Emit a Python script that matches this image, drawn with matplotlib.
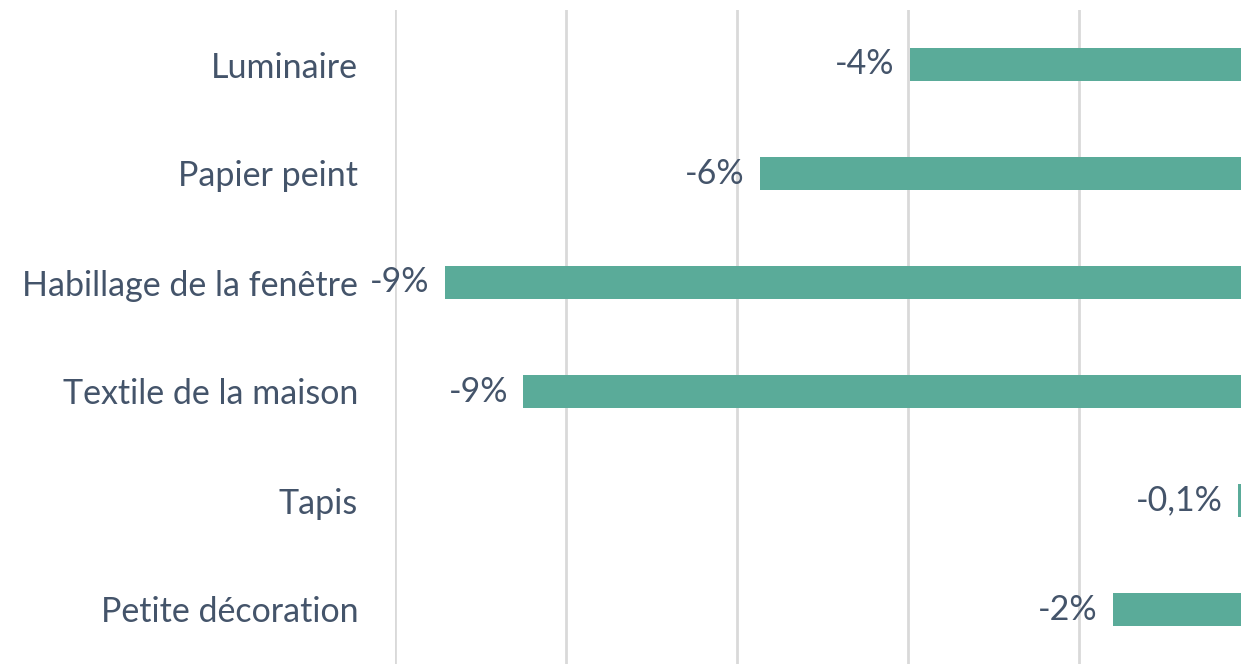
import matplotlib.pyplot as plt

# Donnees du graphique
categories = ['Luminaire', 'Papier peint', 'Habillage de la fenêtre',
              'Textile de la maison', 'Tapis', 'Petite décoration']
valeurs = [-3.98, -5.73, -9.42, -8.5, -0.14, -1.6]
etiquettes = ['-4%', '-6%', '-9%', '-9%', '-0,1%', '-2%']

couleur_barre = '#5AAB99'
couleur_texte = '#44546A'

plt.rcParams['font.family'] = ['Lato', 'DejaVu Sans']

fig = plt.figure(figsize=(12.41, 6.64), dpi=100)
# l'axe depasse a droite : le zero est coupe comme dans l'original
ax = fig.add_axes([395 / 1241, 0, 855 / 1241, 654 / 664])

pos = list(range(len(categories)))
ax.barh(pos, valeurs, height=0.31, color=couleur_barre, zorder=3)
ax.set_xlim(-10, 0)
ax.set_ylim(len(categories) - 0.5, -0.5)
ax.set_xticks([-10, -8, -6, -4, -2, 0])
ax.xaxis.grid(True, color='#D9D9D9', linewidth=2)
ax.tick_params(axis='x', bottom=False, labelbottom=False)
ax.tick_params(axis='y', left=False, pad=23, labelsize=24.5, labelcolor=couleur_texte)
ax.set_yticks(pos)
ax.set_yticklabels(categories)
for s in ax.spines.values():
    s.set_visible(False)

for y, v, t in zip(pos, valeurs, etiquettes):
    ax.annotate(t, (v, y), xytext=(-11, 0), textcoords='offset points',
                ha='right', va='center', fontsize=24.5, color=couleur_texte)

fig.savefig('out.png', dpi=100)
